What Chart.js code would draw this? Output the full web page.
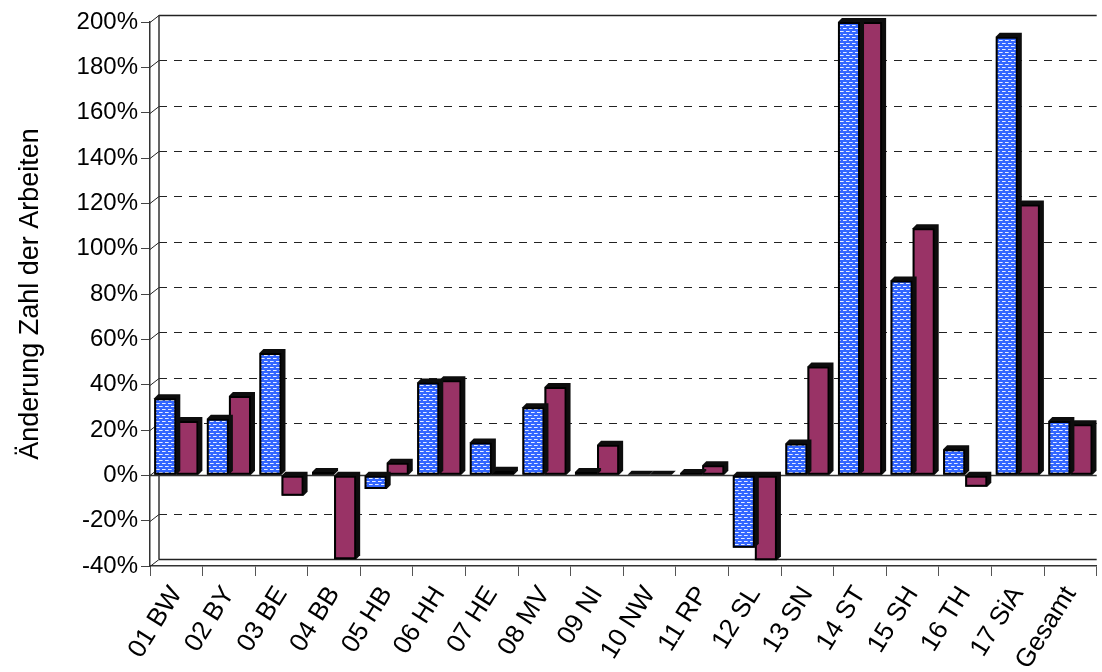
<!DOCTYPE html>
<html>
<head>
<meta charset="utf-8">
<script src="https://cdn.jsdelivr.net/npm/chart.js@4/dist/chart.umd.min.js"></script>
<style>
    html, body { margin: 0; padding: 0; background: #ffffff; }
    #wrap { width: 1102px; height: 672px; position: relative; }
</style>
</head>
<body>
<div id="wrap"><canvas id="chart"></canvas></div>
<script>
const categories = ['01 BW', '02 BY', '03 BE', '04 BB', '05 HB', '06 HH', '07 HE', '08 MV', '09 NI',
    '10 NW', '11 RP', '12 SL', '13 SN', '14 ST', '15 SH', '16 TH', '17 SiA', 'Gesamt'];
const seriesBlue = [34, 25, 54, 1.5, -6, 41, 14.5, 30, 1.5, 0.3, 1, -32, 14, 200, 86, 11.5, 193.5, 24];
const seriesRed = [24, 35, -9, -37, 5.5, 42, 2, 39, 13.5, 0.3, 4.5, -37.5, 48, 200, 109, -5, 119.5, 22.5];
const yMin = -40;
const yMax = 200;
const yStep = 20;
const yTitle = 'Änderung Zahl der Arbeiten';

const FONT = '"Liberation Sans", Arial, sans-serif';
const DEPTH = 4;      // 3D bar depth
const WALL_DX = 9;    // back wall offset
const WALL_DY = -7;

function makeDotPattern() {
    const c = document.createElement('canvas');
    c.width = 6;
    c.height = 6;
    const g = c.getContext('2d');
    g.fillStyle = '#3366ff';
    g.fillRect(0, 0, 6, 6);
    g.fillStyle = '#e6edff';
    g.fillRect(0, 1, 3, 1);
    g.fillRect(3, 4, 3, 1);
    g.fillStyle = '#a8bcff';
    g.fillRect(3, 1, 1, 1);
    g.fillRect(0, 4, 1, 1);
    return g.createPattern(c, 'repeat');
}

// back wall with dashed gridlines, drawn from the y scale
const wallPlugin = {
    id: 'wall',
    beforeDatasetsDraw(chart) {
        const ctx = chart.ctx;
        const y = chart.scales.y;
        const { left, right, top, bottom } = chart.chartArea;
        ctx.save();
        ctx.lineWidth = 1;
        ctx.strokeStyle = '#222';
        y.ticks.forEach((t) => {
            const py = Math.round(y.getPixelForValue(t.value)) + 0.5;
            ctx.setLineDash([]);
            ctx.beginPath();
            ctx.moveTo(left, py);
            ctx.lineTo(left + WALL_DX, py + WALL_DY);
            ctx.stroke();
            if (t.value === 0) {
                return;
            }
            const solid = t.value === yMin || t.value === yMax;
            ctx.setLineDash(solid ? [] : [8, 7]);
            ctx.lineWidth = solid ? 1.5 : 1;
            ctx.beginPath();
            ctx.moveTo(left + WALL_DX, py + WALL_DY);
            ctx.lineTo(right, py + WALL_DY);
            ctx.stroke();
            ctx.lineWidth = 1;
        });
        ctx.setLineDash([]);
        ctx.strokeStyle = '#333';
        ctx.lineWidth = 1.5;
        ctx.beginPath();
        ctx.moveTo(left + WALL_DX, top + WALL_DY);
        ctx.lineTo(left + WALL_DX, bottom + WALL_DY);
        ctx.stroke();
        const p0 = Math.round(y.getPixelForValue(0)) + 0.5;
        ctx.beginPath();
        ctx.moveTo(left, p0);
        ctx.lineTo(right, p0);
        ctx.stroke();
        ctx.restore();
    },
    // dark top/side faces behind each bar
    beforeDatasetDraw(chart, args) {
        const ctx = chart.ctx;
        const meta = args.meta;
        ctx.save();
        ctx.fillStyle = '#0d0d0d';
        meta.data.forEach((bar) => {
            const p = bar.getProps(['x', 'y', 'base', 'width'], true);
            const l = p.x - p.width / 2;
            const r = p.x + p.width / 2;
            const t = Math.min(p.y, p.base);
            const b = Math.max(p.y, p.base);
            ctx.beginPath();
            ctx.moveTo(l, t);
            ctx.lineTo(l + DEPTH, t - DEPTH);
            ctx.lineTo(r + DEPTH, t - DEPTH);
            ctx.lineTo(r + DEPTH, b - DEPTH);
            ctx.lineTo(r, b);
            ctx.lineTo(l, b);
            ctx.closePath();
            ctx.fill();
        });
        ctx.restore();
    },
};

function init() {
    const ctx = document.getElementById('chart').getContext('2d');
    new Chart(ctx, {
        type: 'bar',
        data: {
            labels: categories,
            datasets: [
                {
                    label: 'Reihe 1',
                    data: seriesBlue,
                    backgroundColor: makeDotPattern(),
                    borderColor: '#000000',
                    borderWidth: 2,
                    borderSkipped: false,
                },
                {
                    label: 'Reihe 2',
                    data: seriesRed,
                    backgroundColor: '#993366',
                    borderColor: '#000000',
                    borderWidth: 2,
                    borderSkipped: false,
                },
            ],
        },
        options: {
            responsive: true,
            maintainAspectRatio: false,
            animation: false,
            layout: {
                padding: { top: 22, right: 5, left: 0, bottom: 0 },
            },
            datasets: {
                bar: {
                    categoryPercentage: 0.84,
                    barPercentage: 1.0,
                },
            },
            plugins: {
                legend: { display: false },
                tooltip: { enabled: false },
            },
            scales: {
                x: {
                    offset: true,
                    grid: {
                        drawOnChartArea: false,
                        tickLength: 10,
                        color: '#555',
                    },
                    border: { display: true, color: '#333', width: 1.5 },
                    ticks: {
                        autoSkip: false,
                        minRotation: 58,
                        maxRotation: 58,
                        color: '#000',
                        padding: 5,
                        font: { family: FONT, size: 26 },
                    },
                    afterFit: (scale) => {
                        scale.height = 106;
                    },
                },
                y: {
                    min: yMin,
                    max: yMax,
                    ticks: {
                        stepSize: yStep,
                        color: '#000',
                        padding: 3,
                        font: { family: FONT, size: 24 },
                        callback: (v) => v + '%',
                    },
                    grid: {
                        drawOnChartArea: false,
                        tickLength: 9,
                        color: '#444',
                    },
                    border: { display: true, color: '#333', width: 1.5 },
                    title: {
                        display: true,
                        text: yTitle,
                        color: '#000',
                        padding: { top: 14, bottom: 0 },
                        font: { family: FONT, size: 27 },
                    },
                    afterFit: (scale) => {
                        scale.width = 150;
                    },
                },
            },
        },
        plugins: [wallPlugin],
    });
}

document.addEventListener('DOMContentLoaded', init);
</script>
</body>
</html>
